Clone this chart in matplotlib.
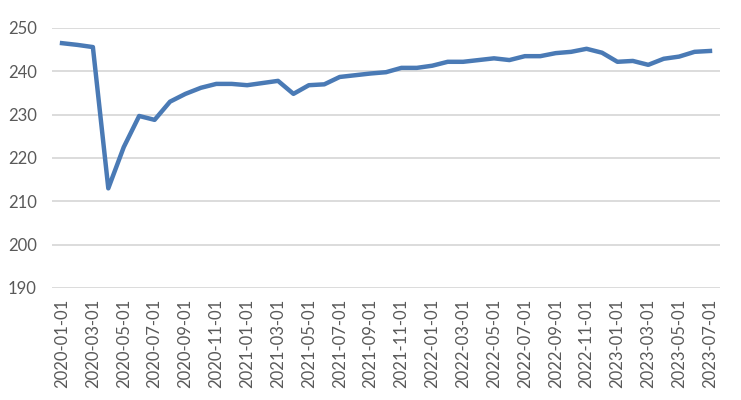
import numpy as np
import pandas as pd
import matplotlib
matplotlib.use('Agg')
from matplotlib import pyplot as plt

dates = pd.date_range('2020-01-01', '2023-07-01', freq='MS').strftime('%Y-%m-%d').tolist()
values = [246.5, 246.1, 245.6, 213.0, 222.5, 229.7, 228.8, 233.0, 234.8, 236.2,
          237.1, 237.1, 236.8, 237.3, 237.8, 234.8, 236.8, 237.0, 238.7, 239.1,
          239.5, 239.8, 240.8, 240.8, 241.3, 242.2, 242.2, 242.6, 243.0, 242.6,
          243.5, 243.5, 244.2, 244.5, 245.2, 244.3, 242.2, 242.4, 241.5, 242.9,
          243.4, 244.5, 244.7]
yticks = [190, 200, 210, 220, 230, 240, 250]

plt.rcParams['font.family'] = ['Lato', 'DejaVu Sans']

fig = plt.figure(figsize=(7.41, 4.0), dpi=100)
ax = fig.add_axes([52/741, 1-288/400, (720-52)/741, 260/400])

x = np.arange(len(dates))
ax.plot(x, values, color='#4a7ab5', linewidth=3.2, solid_joinstyle='round', zorder=3)

ax.set_xlim(-0.65, len(dates) - 0.35)
ax.set_ylim(190, 250)
ax.set_yticks(yticks)
ax.set_xticks(x[::2])
ax.set_xticklabels(dates[::2], rotation=90, fontsize=12, color='#595959')
ax.tick_params(axis='y', labelsize=12, labelcolor='#595959', pad=11)
ax.tick_params(axis='x', pad=8)
ax.tick_params(length=0)
ax.grid(axis='y', color='#d9d9d9', linewidth=1.3)
for s in ax.spines.values():
    s.set_visible(False)

fig.savefig('out.png', dpi=100)
